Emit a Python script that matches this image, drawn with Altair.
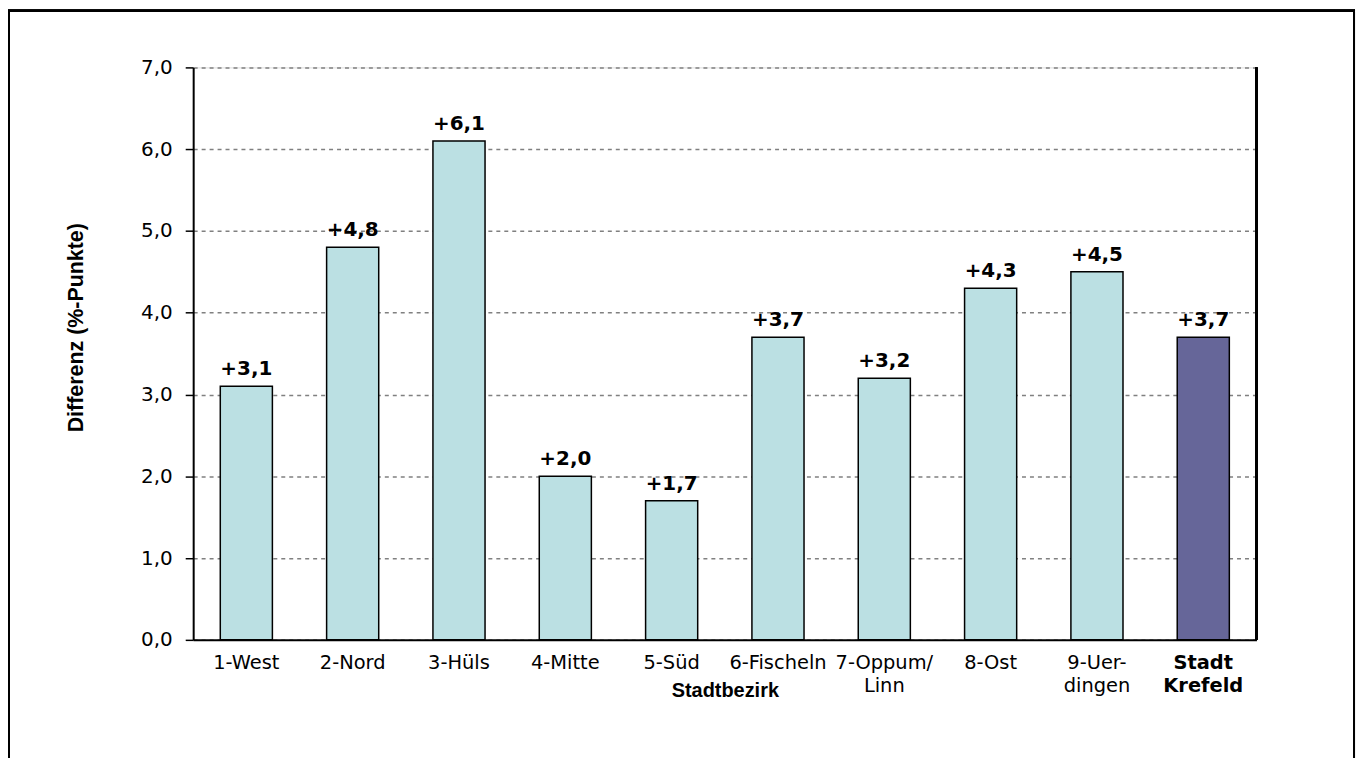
import altair as alt
import pandas as pd

categories = ["1-West", "2-Nord", "3-Hüls", "4-Mitte", "5-Süd", "6-Fischeln",
              "7-Oppum/|Linn", "8-Ost", "9-Uer-|dingen", "Stadt|Krefeld"]
values = [3.1, 4.8, 6.1, 2.0, 1.7, 3.7, 3.2, 4.3, 4.5, 3.7]
y_ticks = [0, 1, 2, 3, 4, 5, 6, 7]

df = pd.DataFrame({"cat": categories, "v": values})

W, H = 1068, 575
TFONT = "Liberation Sans"
LFONT = "DejaVu Sans"

x_enc = alt.X(
    "cat:N", sort=None,
    scale=alt.Scale(paddingInner=0.51, paddingOuter=0.255),
    axis=alt.Axis(
        title="Stadtbezirk", titleFont=TFONT, titleFontSize=20, titleFontWeight="bold",
        titleColor="black", titleY=51, titleBaseline="middle",
        labelExpr="split(datum.value, '|')", labelAngle=0,
        labelFont=LFONT, labelFontSize=19.5, labelColor="black",
        labelFontWeight={"condition": {"test": "datum.value == 'Stadt|Krefeld'", "value": "bold"}, "value": "normal"},
        labelLineHeight=23, labelPadding=14, labelBaseline="top",
        ticks=False, domainColor="black", domainWidth=2, grid=False,
    ),
)
y_enc = alt.Y(
    "v:Q", scale=alt.Scale(domain=[0, 7], nice=False),
    axis=alt.Axis(
        title="Differenz (%-Punkte)", titleFont=TFONT, titleFontSize=21.5, titleFontWeight="bold",
        titleColor="black", titleX=-117, titleY=261, titleAngle=270,
        titleAlign="center", titleBaseline="middle",
        values=y_ticks, labelExpr="replace(format(datum.value, '.1f'), '.', ',')",
        labelFont=LFONT, labelFontSize=20, labelColor="black", labelPadding=13,
        tickSize=8, tickColor="black", tickWidth=1.5,
        domainColor="black", domainWidth=2,
        grid=True, gridColor="#808080", gridDash=[4, 4], gridWidth=1.5,
    ),
)

bars = alt.Chart(df).mark_bar(stroke="black", strokeWidth=1.5).encode(
    x=x_enc, y=y_enc,
    color=alt.condition(alt.datum.cat == "Stadt|Krefeld", alt.value("#666699"), alt.value("#BBE0E3")),
)

text = alt.Chart(df).transform_calculate(
    lbl="'+' + replace(format(datum.v, '.1f'), '.', ',')"
).mark_text(font=LFONT, fontSize=20, fontWeight="bold", baseline="alphabetic", dy=-11, color="black").encode(
    x=alt.X("cat:N", sort=None), y="v:Q", text="lbl:N"
)

right_rule = alt.Chart(df).mark_rule(color="black", strokeWidth=2).encode(
    x=alt.value(W), y=alt.value(0), y2=alt.value(H)
)

border = alt.Chart(df).mark_rect(fill=None, stroke="black", strokeWidth=2, clip=False).encode(
    x=alt.value(-185), x2=alt.value(1166), y=alt.value(-57), y2=alt.value(720)
)

chart = alt.layer(bars, text, right_rule, border).properties(
    width=W, height=H,
    autosize=alt.AutoSizeParams(type="none"),
    padding={"left": 186, "top": 58, "right": 100, "bottom": 117},
).configure_view(stroke=None).configure(background="white")

chart.save("out.html", embed_options={"renderer": "svg", "actions": False})
